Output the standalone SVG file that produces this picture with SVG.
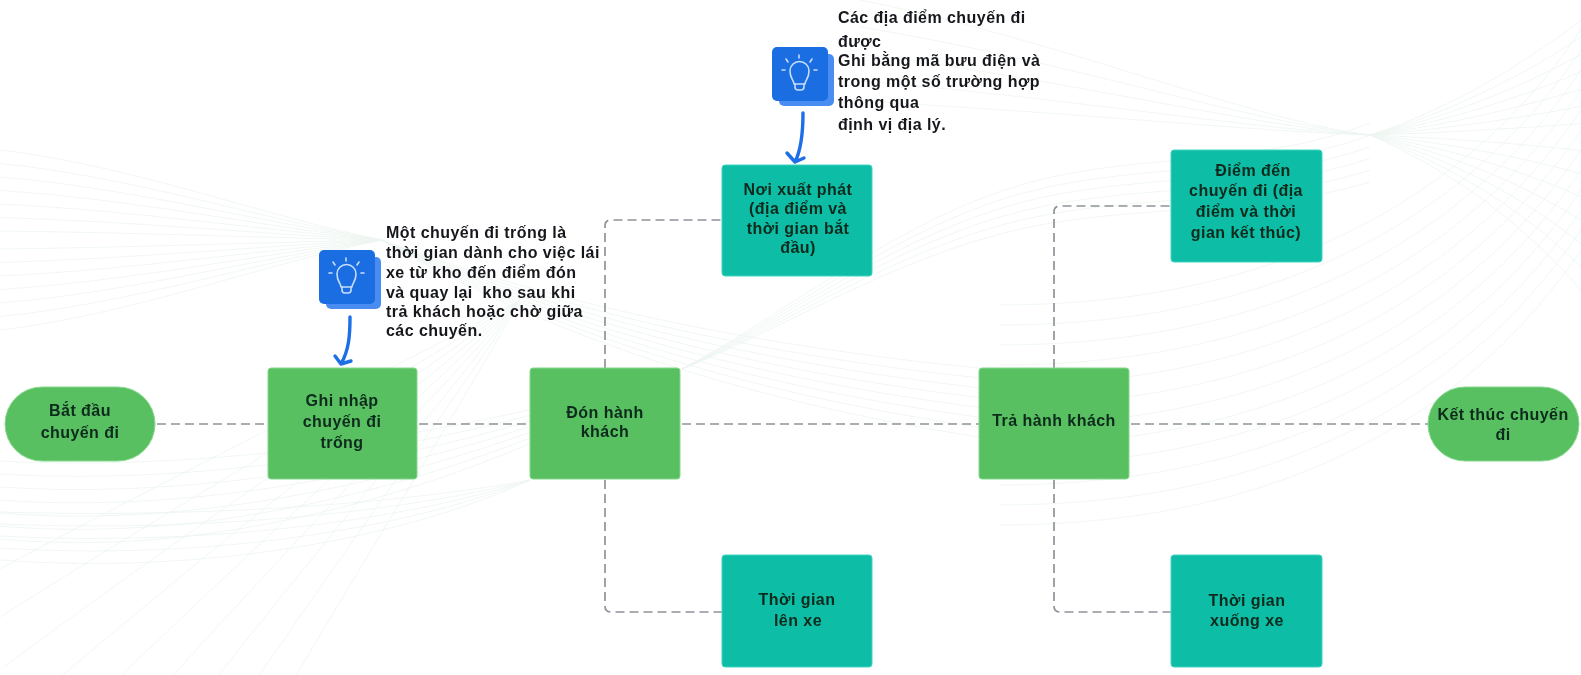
<svg xmlns="http://www.w3.org/2000/svg" width="1581" height="675" viewBox="0 0 1581 675">
<style>
.bg{fill:none;stroke:#ecf5f0;stroke-width:.8;vector-effect:non-scaling-stroke}
.conn{fill:none;stroke:#8f9399;stroke-width:1.7;stroke-dasharray:9 5}
.green{fill:#58c061;stroke:#85d98d;stroke-width:1}
.teal{fill:#0ebda5;stroke:#3fd6c3;stroke-width:1}
.t,.n{font-family:"Liberation Sans",Arial,sans-serif;font-weight:700;font-size:16px;letter-spacing:.45px;filter:url(#soft)}
.t{fill:#0c2a1c;text-anchor:middle}
.n{fill:#15181c}
.ar{fill:none;stroke:#1c6fe6;stroke-width:3.4;stroke-linecap:round;stroke-linejoin:round}
.ic{fill:none;stroke:#c6ddfb;stroke-width:1.6;stroke-linecap:round;stroke-linejoin:round}
</style>
<defs>
<filter id="soft" x="-5%" y="-20%" width="110%" height="140%"><feGaussianBlur stdDeviation="0.3"/></filter>
<path id="a1" class="bg" d="M0 150C130 165 260 215 382 240"/>
<path id="a2" class="bg" d="M382 240C520 320 720 400 1000 440"/>
<path id="b1" class="bg" d="M0 500C200 515 450 470 680 370"/>
<path id="b2" class="bg" d="M680 370C780 320 880 240 1000 200S1250 180 1370 135"/>
<path id="g1" class="bg" d="M860 0C1060 40 1250 120 1370 135"/>
<path id="g2" class="bg" d="M1370 135C1450 110 1530 60 1581 20"/>
<path id="g3" class="bg" d="M1370 135C1450 170 1520 220 1581 290"/>
<path id="c" class="bg" d="M1000 525C1300 525 1480 400 1581 250"/>
<path id="d" class="bg" d="M520 300C420 400 280 520 60 735"/>
<path id="e" class="bg" d="M0 560C200 575 400 540 530 480"/>
<g id="bulb">
<rect x="326" y="257" width="55" height="52" rx="5" fill="#4a8df2"/><rect x="319" y="250" width="56" height="54" rx="5" fill="#1a6ee2"/>
<g class="ic"><path d="M341 287C341 283 337 282 337 274A9.500 9.500 0 0 1 356 274C356 282 352 283 352 287Z"/><path d="M342 287V290Q342 293 345 293H348Q351 293 351 290V287M333 262L335 265M346 258V261M359 262L357 265M329 273H332M361 273H364"/></g>
</g>
</defs>
<g id="background">
<use href="#a1"/><use href="#a1" transform="translate(0,240) scale(1,.85) translate(0,-240)"/><use href="#a1" transform="translate(0,240) scale(1,.7) translate(0,-240)"/><use href="#a1" transform="translate(0,240) scale(1,.55) translate(0,-240)"/><use href="#a1" transform="translate(0,240) scale(1,.4) translate(0,-240)"/><use href="#a1" transform="translate(0,240) scale(1,.25) translate(0,-240)"/><use href="#a1" transform="translate(0,240) scale(1,.1) translate(0,-240)"/><use href="#a1" transform="translate(0,240) scale(1,-.1) translate(0,-240)"/><use href="#a1" transform="translate(0,240) scale(1,-.25) translate(0,-240)"/><use href="#a1" transform="translate(0,240) scale(1,-.4) translate(0,-240)"/><use href="#a1" transform="translate(0,240) scale(1,-.55) translate(0,-240)"/><use href="#a1" transform="translate(0,240) scale(1,-.7) translate(0,-240)"/><use href="#a1" transform="translate(0,240) scale(1,-.85) translate(0,-240)"/><use href="#a1" transform="translate(0,240) scale(1,-1) translate(0,-240)"/>
<use href="#a2"/><use href="#a2" transform="translate(0,240) scale(1,.95) translate(0,-240)"/><use href="#a2" transform="translate(0,240) scale(1,.9) translate(0,-240)"/><use href="#a2" transform="translate(0,240) scale(1,.85) translate(0,-240)"/><use href="#a2" transform="translate(0,240) scale(1,.8) translate(0,-240)"/><use href="#a2" transform="translate(0,240) scale(1,.75) translate(0,-240)"/><use href="#a2" transform="translate(0,240) scale(1,.7) translate(0,-240)"/><use href="#a2" transform="translate(0,240) scale(1,.65) translate(0,-240)"/>
<use href="#b1"/><use href="#b1" transform="translate(0,370) scale(1,1.1) translate(0,-370)"/><use href="#b1" transform="translate(0,370) scale(1,1.2) translate(0,-370)"/><use href="#b1" transform="translate(0,370) scale(1,1.3) translate(0,-370)"/><use href="#b1" transform="translate(0,370) scale(1,.9) translate(0,-370)"/><use href="#b1" transform="translate(0,370) scale(1,.8) translate(0,-370)"/><use href="#b1" transform="translate(0,370) scale(1,.7) translate(0,-370)"/>
<use href="#b2"/><use href="#b2" transform="translate(0,370) scale(1,1.05) translate(0,-370)"/><use href="#b2" transform="translate(0,370) scale(1,.95) translate(0,-370)"/><use href="#b2" transform="translate(0,370) scale(1,.9) translate(0,-370)"/><use href="#b2" transform="translate(0,370) scale(1,.85) translate(0,-370)"/><use href="#b2" transform="translate(0,370) scale(1,.8) translate(0,-370)"/>
<use href="#g1"/><use href="#g1" transform="translate(0,135) scale(1,.8) translate(0,-135)"/><use href="#g1" transform="translate(0,135) scale(1,.6) translate(0,-135)"/><use href="#g1" transform="translate(0,135) scale(1,.4) translate(0,-135)"/><use href="#g1" transform="translate(0,135) scale(1,.25) translate(0,-135)"/>
<use href="#g2"/><use href="#g2" transform="translate(0,135) scale(1,.85) translate(0,-135)"/><use href="#g2" transform="translate(0,135) scale(1,.7) translate(0,-135)"/><use href="#g2" transform="translate(0,135) scale(1,.55) translate(0,-135)"/><use href="#g2" transform="translate(0,135) scale(1,.4) translate(0,-135)"/><use href="#g2" transform="translate(0,135) scale(1,.25) translate(0,-135)"/><use href="#g2" transform="translate(0,135) scale(1,.1) translate(0,-135)"/>
<use href="#g3"/><use href="#g3" transform="translate(0,135) scale(1,.85) translate(0,-135)"/><use href="#g3" transform="translate(0,135) scale(1,.7) translate(0,-135)"/><use href="#g3" transform="translate(0,135) scale(1,.55) translate(0,-135)"/><use href="#g3" transform="translate(0,135) scale(1,.4) translate(0,-135)"/><use href="#g3" transform="translate(0,135) scale(1,.25) translate(0,-135)"/><use href="#g3" transform="translate(0,135) scale(1,.1) translate(0,-135)"/>
<use href="#c"/><use href="#c" transform="translate(0,-20)"/><use href="#c" transform="translate(0,-40)"/><use href="#c" transform="translate(0,-60)"/><use href="#c" transform="translate(0,-80)"/><use href="#c" transform="translate(0,-100)"/><use href="#c" transform="translate(0,-120)"/><use href="#c" transform="translate(0,-140)"/><use href="#c" transform="translate(0,-160)"/><use href="#c" transform="translate(0,-180)"/><use href="#c" transform="translate(0,-200)"/><use href="#c" transform="translate(0,-220)"/>
<use href="#d"/><use href="#d" transform="rotate(4 520 300)"/><use href="#d" transform="rotate(8 520 300)"/><use href="#d" transform="rotate(12 520 300)"/><use href="#d" transform="rotate(16 520 300)"/><use href="#d" transform="rotate(-4 520 300)"/><use href="#d" transform="rotate(-8 520 300)"/><use href="#d" transform="rotate(-12 520 300)"/><use href="#d" transform="rotate(-16 520 300)"/>
<use href="#e"/><use href="#e" transform="translate(0,480) scale(1,.85) translate(0,-480)"/><use href="#e" transform="translate(0,480) scale(1,.7) translate(0,-480)"/><use href="#e" transform="translate(0,480) scale(1,.55) translate(0,-480)"/><use href="#e" transform="translate(0,480) scale(1,.4) translate(0,-480)"/>
</g>
<g id="connectors">
<path class="conn" d="M157 424H268"/>
<path class="conn" d="M419 424H530"/>
<path class="conn" d="M682 424H979"/>
<path class="conn" d="M1131 424H1428"/>
<path class="conn" d="M605 368V226Q605 220 611 220H722"/>
<path class="conn" d="M605 480V606Q605 612 611 612H722"/>
<path class="conn" d="M1054 368V212Q1054 206 1060 206H1171"/>
<path class="conn" d="M1054 480V606Q1054 612 1060 612H1171"/>
<path class="ar" d="M350 317C350 335 349 350 341 364M335 356L341 364L351 361"/>
<path class="ar" d="M803 113C803 130 802 148 795 162M787 153L795 162L804 158"/>
</g>
<g id="node-start"><rect class="green" x="5" y="387" width="150" height="74" rx="37"/><text class="t" x="80" y="416">Bắt đầu</text><text class="t" x="80" y="438">chuyến đi</text></g>
<g id="node-empty"><rect class="green" x="268" y="368" width="149" height="111" rx="3"/><text class="t" x="342" y="406">Ghi nhập</text><text class="t" x="342" y="427">chuyến đi</text><text class="t" x="342" y="448">trống</text></g>
<g id="node-pickup"><rect class="green" x="530" y="368" width="150" height="111" rx="3"/><text class="t" x="605" y="418">Đón hành</text><text class="t" x="605" y="437">khách</text></g>
<g id="node-dropoff"><rect class="green" x="979" y="368" width="150" height="111" rx="3"/><text class="t" x="1054" y="426">Trả hành khách</text></g>
<g id="node-end"><rect class="green" x="1428" y="387" width="151" height="74" rx="37"/><text class="t" x="1503" y="420">Kết thúc chuyến</text><text class="t" x="1503" y="440">đi</text></g>
<g id="node-origin"><rect class="teal" x="722" y="165" width="150" height="111" rx="3"/><text class="t" x="798" y="195">Nơi xuất phát</text><text class="t" x="798" y="214">(địa điểm và</text><text class="t" x="798" y="234">thời gian bắt</text><text class="t" x="798" y="253">đầu)</text></g>
<g id="node-destination"><rect class="teal" x="1171" y="150" width="151" height="112" rx="3"/><text class="t" x="1253" y="176">Điểm đến</text><text class="t" x="1246" y="196">chuyến đi (địa</text><text class="t" x="1246" y="217">điểm và thời</text><text class="t" x="1246" y="238">gian kết thúc)</text></g>
<g id="node-boarding"><rect class="teal" x="722" y="555" width="150" height="112" rx="3"/><text class="t" x="797" y="605">Thời gian</text><text class="t" x="798" y="626">lên xe</text></g>
<g id="node-alight"><rect class="teal" x="1171" y="555" width="151" height="112" rx="3"/><text class="t" x="1247" y="606">Thời gian</text><text class="t" x="1247" y="626">xuống xe</text></g>
<g id="note-empty">
<use href="#bulb"/>
<text class="n" x="386" y="238">Một chuyến đi trống là</text><text class="n" x="386" y="258">thời gian dành cho việc lái</text><text class="n" x="386" y="278">xe từ kho đến điểm đón</text><text class="n" x="386" y="298" xml:space="preserve">và quay lại  kho sau khi</text><text class="n" x="386" y="317">trả khách hoặc chờ giữa</text><text class="n" x="386" y="336">các chuyến.</text>
</g>
<g id="note-locations">
<use href="#bulb" transform="translate(453,-203)"/>
<text class="n" x="838" y="23">Các địa điểm chuyến đi</text><text class="n" x="838" y="47">được</text><text class="n" x="838" y="66">Ghi bằng mã bưu điện và</text><text class="n" x="838" y="87">trong một số trường hợp</text><text class="n" x="838" y="108">thông qua</text><text class="n" x="838" y="130">định vị địa lý.</text>
</g>
</svg>
